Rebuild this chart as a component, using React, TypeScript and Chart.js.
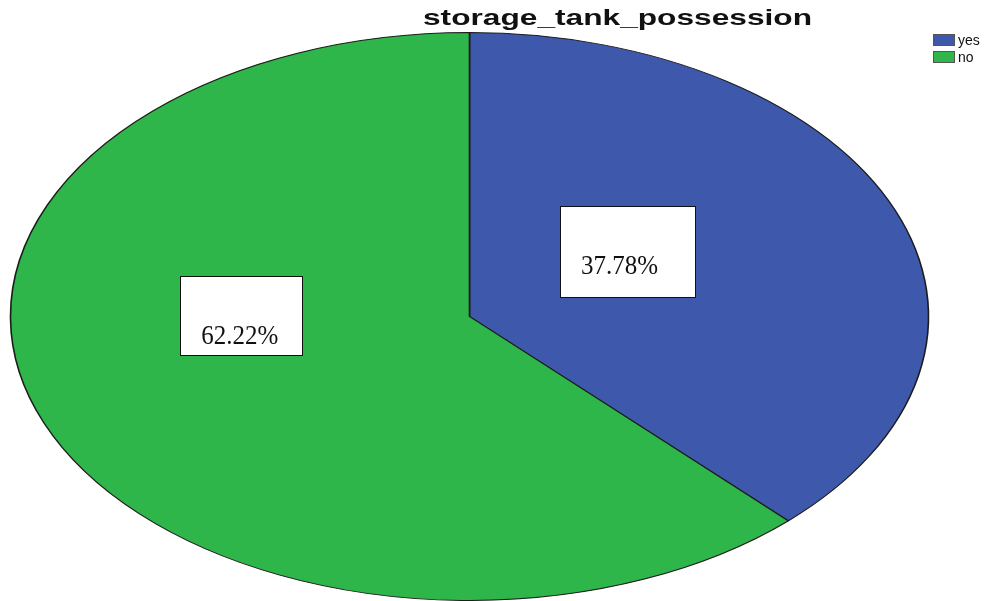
import React, { useEffect, useRef } from "react";
import { Chart, registerables } from "chart.js";

Chart.register(...registerables);

const chartTitle = "storage_tank_possession";
const categories = ["yes", "no"];
const percentages = [37.78, 62.22];
const percentLabels = ["37.78%", "62.22%"];
const sliceColors = ["#3E58AC", "#2EB64A"];

export default function App() {
  const ref = useRef<HTMLCanvasElement>(null);

  useEffect(() => {
    document.body.style.margin = "0";
    const canvas = ref.current;
    if (!canvas) return;

    const RX = 459; // horizontal semi-axis of the ellipse
    const labelFx = [0.3525, 0.54];
    const labelFy = [0.489, 0.16];
    const padRight = [37, 24];
    const padTop = [68, 68];
    const padBottom = [23, 11];

    const ellipsePlugin = {
      id: "ellipsePie",
      beforeDatasetsDraw(chart: any) {
        const arc = chart.getDatasetMeta(0).data[0];
        const { x, y, outerRadius } = arc.getProps(["x", "y", "outerRadius"], true);
        const ctx = chart.ctx;
        ctx.save();
        ctx.translate(x, y);
        ctx.scale(RX / outerRadius, 1);
        ctx.translate(-x, -y);
      },
      afterDatasetsDraw(chart: any) {
        const ctx = chart.ctx;
        ctx.restore();
        const meta = chart.getDatasetMeta(0);
        meta.data.forEach((el: any, i: number) => {
          const p = el.getProps(["x", "y", "outerRadius", "startAngle", "endAngle"], true);
          const mid = (p.startAngle + p.endAngle) / 2;
          const cx = p.x + RX * labelFx[i] * Math.cos(mid);
          const cy = p.y + p.outerRadius * labelFy[i] * Math.sin(mid);
          ctx.save();
          ctx.font = "25px 'Liberation Serif', 'Times New Roman', serif";
          const text = percentLabels[i];
          const w = ctx.measureText(text).width;
          const tx = cx - w / 2;
          const by = cy + 10;
          ctx.fillStyle = "#ffffff";
          ctx.strokeStyle = "#111111";
          ctx.lineWidth = 1;
          const bx = Math.round(tx - 21) + 0.5;
          const bt = Math.round(by - padTop[i]) + 0.5;
          const bw = Math.round(w + 21 + padRight[i]);
          const bh = padTop[i] + padBottom[i];
          ctx.fillRect(bx, bt, bw, bh);
          ctx.strokeRect(bx, bt, bw, bh);
          ctx.fillStyle = "#111111";
          ctx.textBaseline = "alphabetic";
          ctx.textAlign = "left";
          ctx.translate(tx, by);
          ctx.scale(1, 1.1);
          ctx.fillText(text, 0, 0);
          ctx.restore();
        });

        // title
        ctx.save();
        ctx.font = "bold 22px 'Liberation Sans', Arial, sans-serif";
        const tw = ctx.measureText(chartTitle).width;
        const target = 389;
        ctx.translate(617.5, 25);
        ctx.scale(target / tw, 1);
        ctx.fillStyle = "#111111";
        ctx.textAlign = "center";
        ctx.textBaseline = "alphabetic";
        ctx.fillText(chartTitle, 0, 0);
        ctx.restore();

        // legend
        ctx.save();
        ctx.font = "14px 'Liberation Sans', Arial, sans-serif";
        ctx.textBaseline = "middle";
        ctx.textAlign = "left";
        categories.forEach((c, i) => {
          const top = 34 + i * 17;
          ctx.fillStyle = sliceColors[i];
          ctx.fillRect(933, top, 22, 12);
          ctx.strokeStyle = "#555555";
          ctx.lineWidth = 1;
          ctx.strokeRect(933.5, top + 0.5, 21, 11);
          ctx.fillStyle = "#111111";
          ctx.fillText(c, 958, top + 7);
        });
        ctx.restore();
      },
    };

    const chart = new Chart(canvas, {
      type: "pie",
      data: {
        labels: categories,
        datasets: [
          {
            data: percentages,
            backgroundColor: sliceColors,
            borderColor: "#1c1c1c",
            borderWidth: 1,
          },
        ],
      },
      options: {
        animation: false,
        responsive: false,
        maintainAspectRatio: false,
        devicePixelRatio: 1,
        layout: { padding: { left: 185, right: 239, top: 32, bottom: 0 } },
        plugins: {
          legend: { display: false },
          tooltip: { enabled: false },
          title: { display: false },
        },
      },
      plugins: [ellipsePlugin],
    });

    return () => chart.destroy();
  }, []);

  return (
    <div style={{ position: "absolute", left: 0, top: 0, width: 993, height: 601, background: "#ffffff" }}>
      <canvas ref={ref} width={993} height={601} style={{ display: "block" }} />
    </div>
  );
}
